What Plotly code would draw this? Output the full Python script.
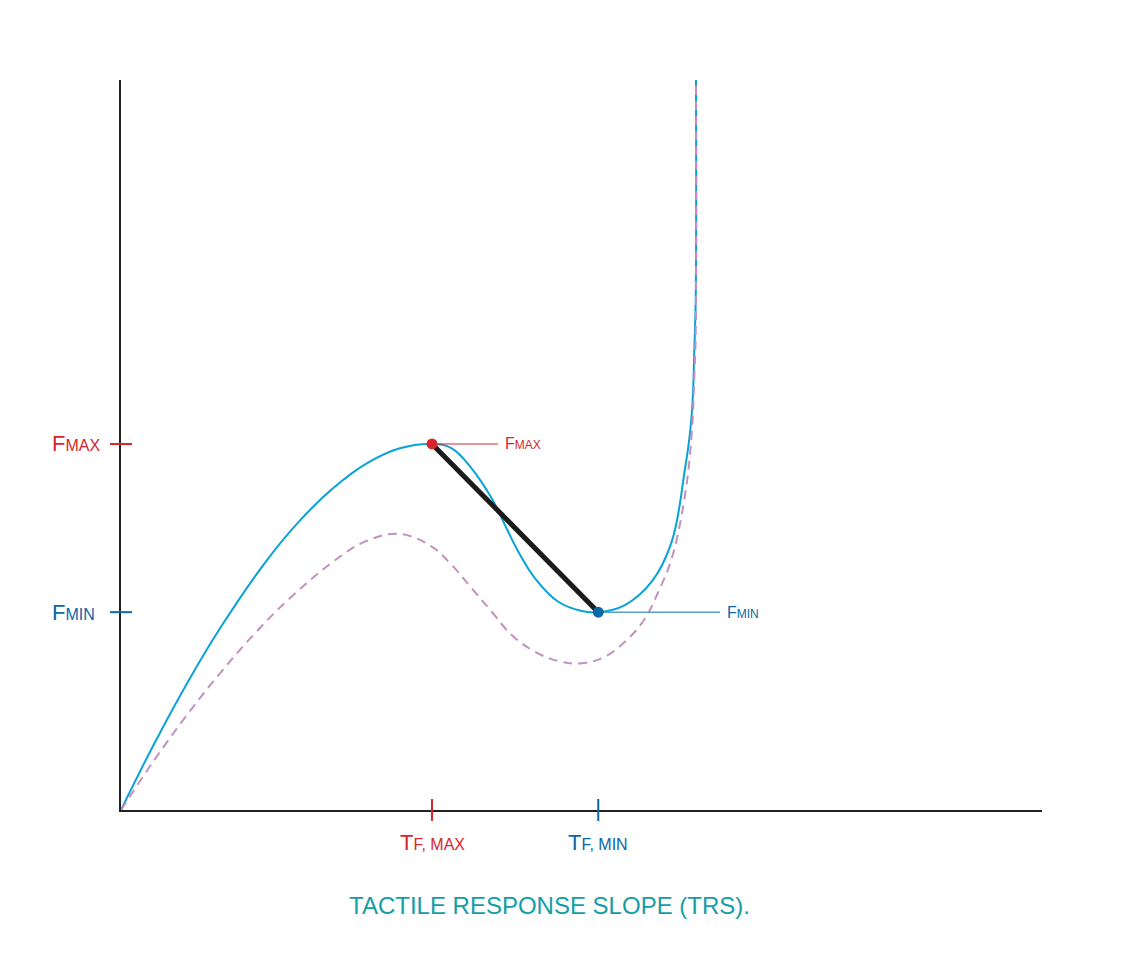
import plotly.graph_objects as go

# Solid curve (tactile response) in arbitrary units: x 0-100, y 0-100
solid_x = [0, 3.62, 7.38, 10.86, 15.93, 19.44, 23.05, 26.68, 30.29, 33.77, 35.91, 38.08,
           40.25, 41.69, 43.14, 44.95, 47.48, 50.02, 51.82, 54.72, 57.62, 59.79, 61.24,
           61.78, 62.07, 62.25, 62.40, 62.43]
solid_y = [0, 9.12, 17.82, 25.10, 34.37, 39.68, 44.11, 47.49, 49.55, 50.14, 49.55, 46.78,
           42.70, 39.04, 35.38, 31.74, 28.53, 27.26, 27.10, 28.08, 31.27, 36.73, 46.78,
           51.64, 56.16, 63.01, 69.86, 100]

# Dashed curve
dash_x = [0, 3.62, 7.24, 10.86, 14.47, 18.10, 22.99, 26.71, 30.29, 33.74, 35.91, 38.08,
          40.25, 42.42, 44.95, 47.48, 50.02, 52.55, 55.08, 56.89, 58.34, 59.79, 61.24,
          61.97, 62.25, 62.40, 62.43]
dash_y = [0, 6.85, 13.15, 18.90, 24.11, 28.73, 33.97, 36.89, 37.81, 36.07, 33.56, 30.37,
          27.16, 23.97, 21.68, 20.41, 20.10, 21.00, 23.49, 26.23, 29.88, 34.45, 43.15,
          51.64, 59.36, 65.34, 100]

# Key points
t_fmax, f_max = 33.77, 50.14
t_fmin, f_min = 51.82, 27.10
fmax_leader_end = 40.93
fmin_leader_end = 65.04

RED = "#d7262e"
BLUE = "#0b67a6"
CYAN = "#08a2d8"
MAUVE = "#c291bd"
TEAL = "#129ea6"
FONT = "Liberation Sans, Arial, sans-serif"

fig = go.Figure()
fig.add_trace(go.Scatter(x=solid_x, y=solid_y, mode="lines",
                         line=dict(color=CYAN, width=2, shape="spline", smoothing=1.1),
                         cliponaxis=False, hoverinfo="skip"))
fig.add_trace(go.Scatter(x=dash_x, y=dash_y, mode="lines",
                         line=dict(color=MAUVE, width=2, dash="9px,6px", shape="spline", smoothing=1.1),
                         cliponaxis=False, hoverinfo="skip"))
# leader lines
fig.add_trace(go.Scatter(x=[t_fmax, fmax_leader_end], y=[f_max, f_max], mode="lines",
                         line=dict(color=RED, width=1), hoverinfo="skip"))
fig.add_trace(go.Scatter(x=[t_fmin, fmin_leader_end], y=[f_min, f_min], mode="lines",
                         line=dict(color="#5a9bcc", width=1.5), hoverinfo="skip"))
# slope line
fig.add_trace(go.Scatter(x=[t_fmax, t_fmin], y=[f_max, f_min], mode="lines",
                         line=dict(color="#1b1b1b", width=5), hoverinfo="skip"))
fig.add_trace(go.Scatter(x=[t_fmax], y=[f_max], mode="markers",
                         marker=dict(color=RED, size=11), hoverinfo="skip"))
fig.add_trace(go.Scatter(x=[t_fmin], y=[f_min], mode="markers",
                         marker=dict(color=BLUE, size=11), hoverinfo="skip"))

# tick marks crossing the axes
shapes = [
    dict(type="line", xref="paper", yref="y", xsizemode="pixel", xanchor=0, x0=-11, x1=11,
         y0=f_max, y1=f_max, line=dict(color=RED, width=2)),
    dict(type="line", xref="paper", yref="y", xsizemode="pixel", xanchor=0, x0=-11, x1=11,
         y0=f_min, y1=f_min, line=dict(color=BLUE, width=2)),
    dict(type="line", xref="x", yref="paper", ysizemode="pixel", yanchor=0, y0=-11, y1=11,
         x0=t_fmax, x1=t_fmax, line=dict(color=RED, width=2)),
    dict(type="line", xref="x", yref="paper", ysizemode="pixel", yanchor=0, y0=-11, y1=11,
         x0=t_fmin, x1=t_fmin, line=dict(color=BLUE, width=2)),
]

def sc(big, small, bs, ss):
    return f"<span style='font-size:{bs}px'>{big}</span><span style='font-size:{ss}px'>{small}</span>"

annotations = [
    dict(x=0, xref="paper", y=f_max, yref="y", xanchor="left", xshift=-71, showarrow=False,
         text=sc("F", "MAX", 22, 16), font=dict(color=RED, family=FONT)),
    dict(x=0, xref="paper", y=f_min, yref="y", xanchor="left", xshift=-71, showarrow=False,
         text=sc("F", "MIN", 22, 16), font=dict(color=BLUE, family=FONT)),
    dict(x=t_fmax, xref="x", y=0, yref="y", yanchor="top", yshift=-18, showarrow=False,
         text=sc("T", "F, MAX", 22, 16), font=dict(color=RED, family=FONT)),
    dict(x=t_fmin, xref="x", y=0, yref="y", yanchor="top", yshift=-18, showarrow=False,
         text=sc("T", "F, MIN", 22, 16), font=dict(color=BLUE, family=FONT)),
    dict(x=fmax_leader_end, xref="x", y=f_max, yref="y", xanchor="left", xshift=5, showarrow=False,
         text=sc("F", "MAX", 16, 12), font=dict(color=RED, family=FONT)),
    dict(x=fmin_leader_end, xref="x", y=f_min, yref="y", xanchor="left", xshift=5, showarrow=False,
         text=sc("F", "MIN", 16, 12), font=dict(color=BLUE, family=FONT)),
    dict(x=0.465, xref="paper", y=0, yref="paper", yanchor="middle", yshift=-95, showarrow=False,
         text="TACTILE RESPONSE SLOPE (TRS).", font=dict(color=TEAL, size=24, family=FONT)),
]

fig.update_layout(
    width=1135, height=969,
    margin=dict(l=113, r=101, t=72, b=167),
    paper_bgcolor="white", plot_bgcolor="white",
    showlegend=False,
    shapes=shapes, annotations=annotations,
    font=dict(family=FONT),
    xaxis=dict(range=[0, 100], showgrid=False, zeroline=False, showticklabels=False,
               ticks="", showline=True, linecolor="#222222", linewidth=2),
    yaxis=dict(range=[0, 100], showgrid=False, zeroline=False, showticklabels=False,
               ticks="", showline=True, linecolor="#222222", linewidth=2),
)

fig.write_html("out.html")
